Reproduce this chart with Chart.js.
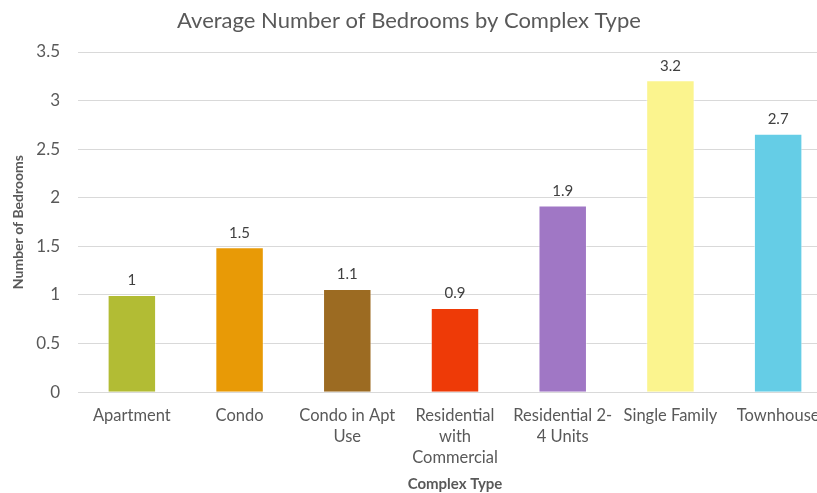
<!DOCTYPE html>
<html>
<head>
<meta charset="utf-8">
<script src="https://cdn.jsdelivr.net/npm/chart.js@4"></script>
<style>
  html, body { margin: 0; padding: 0; background: #fff; overflow: hidden; }
  #wrap { width: 840px; height: 493px; }
</style>
</head>
<body>
<div id="wrap"><canvas id="myChart"></canvas></div>
<script>
// chart data
var types = ["Apartment", "Condo", ["Condo in Apt", "Use"], ["Residential", "with", "Commercial"], ["Residential 2-", "4 Units"], "Single Family", "Townhouse"]
var bedrooms = [1.0, 1.49, 1.06, 0.865, 1.92, 3.21, 2.66]
var barColors = ["#B2BC34", "#E89A06", "#9C6B22", "#EE3A07", "#A077C5", "#FBF48E", "#65CDE6"]

var chartTitle = 'Average Number of Bedrooms by Complex Type'
var textColor = '#595959'

// draws the value above each bar, and the title (placed like the original, a bit left of centre)
var valueLabels = {
    id: 'valueLabels',
    afterDraw: function (chart) {
        var ctx = chart.ctx
        var meta = chart.getDatasetMeta(0)
        ctx.save()
        ctx.font = '15px Lato'
        ctx.fillStyle = '#404040'
        ctx.textAlign = 'center'
        ctx.textBaseline = 'bottom'
        meta.data.forEach(function (bar, i) {
            var v = Math.round(bedrooms[i] * 10) / 10
            ctx.fillText(String(v), bar.x, bar.y - 7)
        })
        ctx.font = '22px Lato'
        ctx.fillStyle = textColor
        ctx.textBaseline = 'middle'
        ctx.fillText(chartTitle, 409, 21)
        ctx.restore()
    }
}

var ctx = document.getElementById('myChart').getContext('2d')
var chart = new Chart(ctx, {
    type: 'bar',
    data: {
        labels: types,
        datasets: [{
            data: bedrooms,
            backgroundColor: barColors,
            borderColor: 'rgba(255,255,255,0.5)',
            borderWidth: 1,
            categoryPercentage: 1,
            barPercentage: 0.45
        }]
    },
    options: {
        responsive: true,
        maintainAspectRatio: false,
        animation: false,
        layout: { padding: { top: 52, left: 0, right: 8, bottom: 0 } },
        plugins: {
            legend: { display: false },
            tooltip: { enabled: false },
            title: { display: false }
        },
        scales: {
            x: {
                grid: { display: false },
                border: { color: '#d9d9d9' },
                ticks: {
                    color: textColor,
                    font: { family: 'Lato', size: 16.5, lineHeight: 1.27 },
                    maxRotation: 0,
                    autoSkip: false,
                    padding: 5
                },
                title: {
                    display: true,
                    text: 'Complex Type',
                    color: textColor,
                    font: { family: 'Lato', size: 15, weight: 'bold' },
                    padding: { top: 2, bottom: 0 }
                }
            },
            y: {
                min: 0,
                max: 3.5,
                afterFit: function (scale) { scale.width = 78 },
                grid: { color: '#d9d9d9', drawTicks: false },
                border: { display: false },
                ticks: {
                    stepSize: 0.5,
                    color: textColor,
                    font: { family: 'Lato', size: 17 },
                    padding: 18,
                    callback: function (v) { return String(v) }
                },
                title: {
                    display: true,
                    text: 'Number of Bedrooms',
                    color: textColor,
                    font: { family: 'Lato', size: 14, weight: 'bold' },
                    padding: { top: 10, bottom: 2 }
                }
            }
        }
    },
    plugins: [valueLabels]
})
</script>
</body>
</html>
